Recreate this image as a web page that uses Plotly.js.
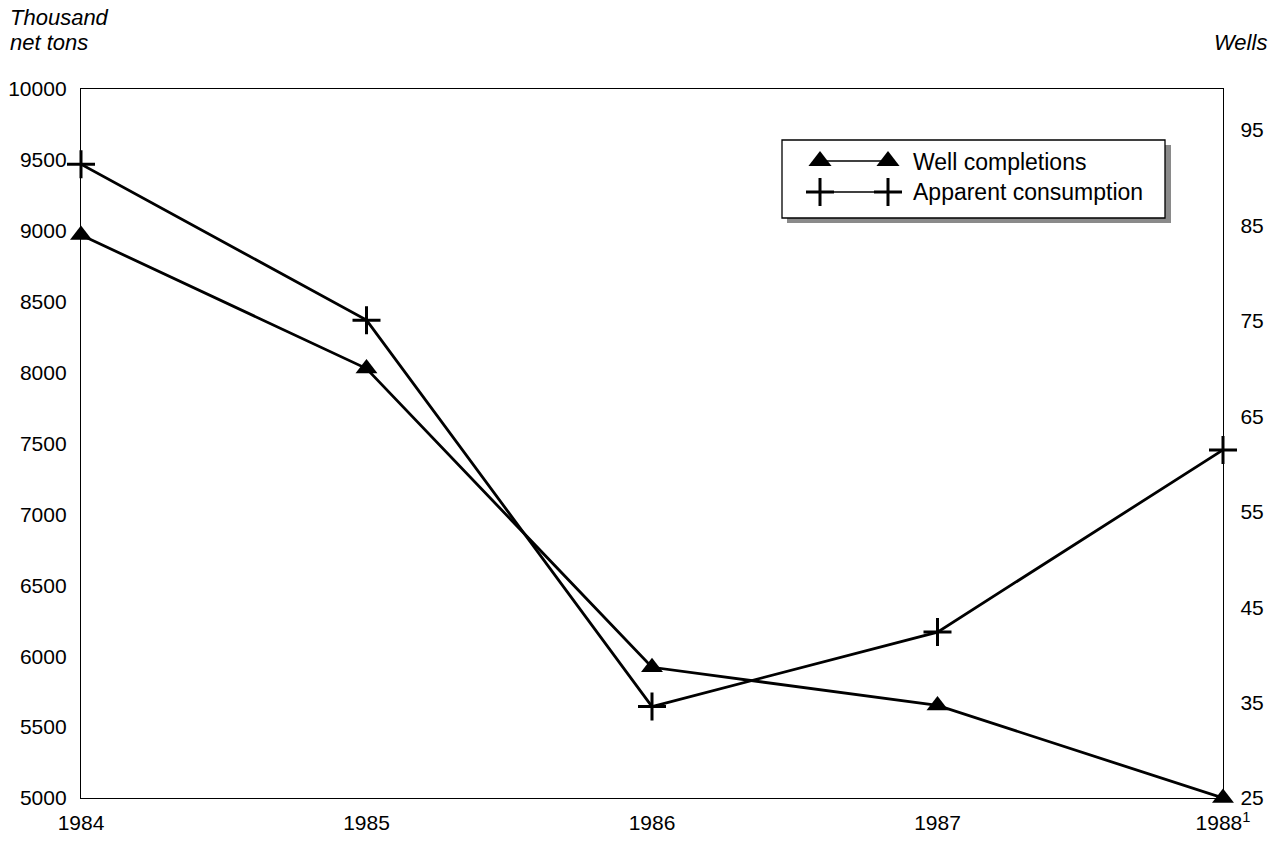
<!DOCTYPE html>
<html>
<head>
<meta charset="utf-8">
<script src="https://cdn.plot.ly/plotly-3.0.1.min.js"></script>
<style>html,body{margin:0;padding:0;background:#fff;}#chart{width:1272px;height:846px;}</style>
</head>
<body>
<div id="chart"></div>
<script>
// ---- data ----
const years = [1984, 1985, 1986, 1987, 1988];
const yearLabels = ["1984", "1985", "1986", "1987", "1988<sup>1</sup>"];
const consumption = [9470, 8370, 5645, 6170, 7455];   // thousand net tons (left axis)
const wells = [84, 70, 38.7, 34.7, 25];                  // well completions (right axis)
const leftTicks = [5000, 5500, 6000, 6500, 7000, 7500, 8000, 8500, 9000, 9500, 10000];
const leftTickText = ["5000", "5500", "6000", "6500", "7000", "7500", "8000", "8500", "9000", "9500", "10000"];
const rightTicks = [25, 35, 45, 55, 65, 75, 85, 95];
const seriesNames = ["Well completions", "Apparent consumption"];

// ---- layout helpers (pixel -> paper) ----
const L = 81, R = 1223, T = 89, B = 798;
const px = v => (v - L) / (R - L);
const py = v => (B - v) / (B - T);

const font = "Liberation Sans, Arial, Helvetica, sans-serif";
const tickSize = 21;

const traces = [
  {
    x: years, y: consumption, yaxis: 'y', xaxis: 'x', mode: 'lines+markers',
    name: seriesNames[1], showlegend: false, cliponaxis: false,
    line: {color: '#000', width: 2.8},
    marker: {symbol: 'cross-thin-open', size: 20, color: '#000', line: {width: 3, color: '#000'}}
  },
  {
    x: years, y: wells, yaxis: 'y2', xaxis: 'x', mode: 'lines+markers',
    name: seriesNames[0], showlegend: false, cliponaxis: false,
    line: {color: '#000', width: 2.8},
    marker: {symbol: 'triangle-up', size: 19, color: '#000'}
  },
  // legend samples (decorative, on a hidden 0..1 axis pair)
  {
    x: [px(820), px(888)], y: [py(161), py(161)], xaxis: 'x3', yaxis: 'y3',
    mode: 'lines+markers', showlegend: false, hoverinfo: 'skip', cliponaxis: false,
    line: {color: '#000', width: 1.4},
    marker: {symbol: 'triangle-up', size: 20, color: '#000'}
  },
  {
    x: [px(820), px(888)], y: [py(192), py(192)], xaxis: 'x3', yaxis: 'y3',
    mode: 'lines+markers', showlegend: false, hoverinfo: 'skip', cliponaxis: false,
    line: {color: '#000', width: 1.4},
    marker: {symbol: 'cross-thin-open', size: 20, color: '#000', line: {width: 3, color: '#000'}}
  }
];

const layout = {
  width: 1272, height: 846,
  margin: {l: L, r: 1272 - R, t: T, b: 846 - B, pad: 0},
  paper_bgcolor: '#fff', plot_bgcolor: '#fff',
  font: {family: font, size: tickSize, color: '#000'},
  showlegend: false,
  xaxis: {
    range: [1984, 1988], tickvals: years, ticktext: yearLabels,
    showgrid: false, zeroline: false, ticks: '',
    showline: true, linecolor: '#000', linewidth: 1.2, mirror: true,
    ticklabelstandoff: 6, tickfont: {size: tickSize, family: font}
  },
  yaxis: {
    range: [5000, 10000], tickvals: leftTicks, ticktext: leftTickText,
    showgrid: false, zeroline: false, ticks: '',
    showline: true, linecolor: '#000', linewidth: 1.2,
    ticklabelstandoff: 9, tickfont: {size: tickSize, family: font}
  },
  yaxis2: {
    overlaying: 'y', side: 'right', range: [25, 99.3], tickvals: rightTicks,
    showgrid: false, zeroline: false, ticks: '',
    showline: true, linecolor: '#000', linewidth: 1.2,
    ticklabelstandoff: 12, tickfont: {size: tickSize, family: font}
  },
  xaxis3: {overlaying: 'x', range: [0, 1], visible: false, fixedrange: true},
  yaxis3: {overlaying: 'y', range: [0, 1], visible: false, fixedrange: true},
  shapes: [
    // legend shadow
    {type: 'rect', xref: 'paper', yref: 'paper', x0: px(787), x1: px(1171), y0: py(223), y1: py(145),
     fillcolor: '#8a8a8a', line: {width: 0}, layer: 'below'},
    // legend box
    {type: 'rect', xref: 'paper', yref: 'paper', x0: px(782), x1: px(1165), y0: py(218), y1: py(140),
     fillcolor: '#fff', line: {color: '#000', width: 1.3}, layer: 'below'}
  ],
  annotations: [
    {text: '<i>Thousand</i>', xref: 'paper', yref: 'paper', x: px(8), y: py(18),
     xanchor: 'left', yanchor: 'middle', align: 'left', showarrow: false,
     font: {size: 22, family: font}},
    {text: '<i>net tons</i>', xref: 'paper', yref: 'paper', x: px(8), y: py(42),
     xanchor: 'left', yanchor: 'middle', align: 'left', showarrow: false,
     font: {size: 22, family: font}},
    {text: '<i>Wells</i>', xref: 'paper', yref: 'paper', x: px(1269), y: py(42),
     xanchor: 'right', yanchor: 'middle', align: 'right', showarrow: false,
     font: {size: 22, family: font}},
    {text: seriesNames[0], xref: 'paper', yref: 'paper', x: px(911), y: py(162),
     xanchor: 'left', yanchor: 'middle', showarrow: false, font: {size: 23, family: font}},
    {text: seriesNames[1], xref: 'paper', yref: 'paper', x: px(911), y: py(192),
     xanchor: 'left', yanchor: 'middle', showarrow: false, font: {size: 23, family: font}}
  ]
};

Plotly.newPlot('chart', traces, layout, {displayModeBar: false, staticPlot: true});
</script>
</body>
</html>
